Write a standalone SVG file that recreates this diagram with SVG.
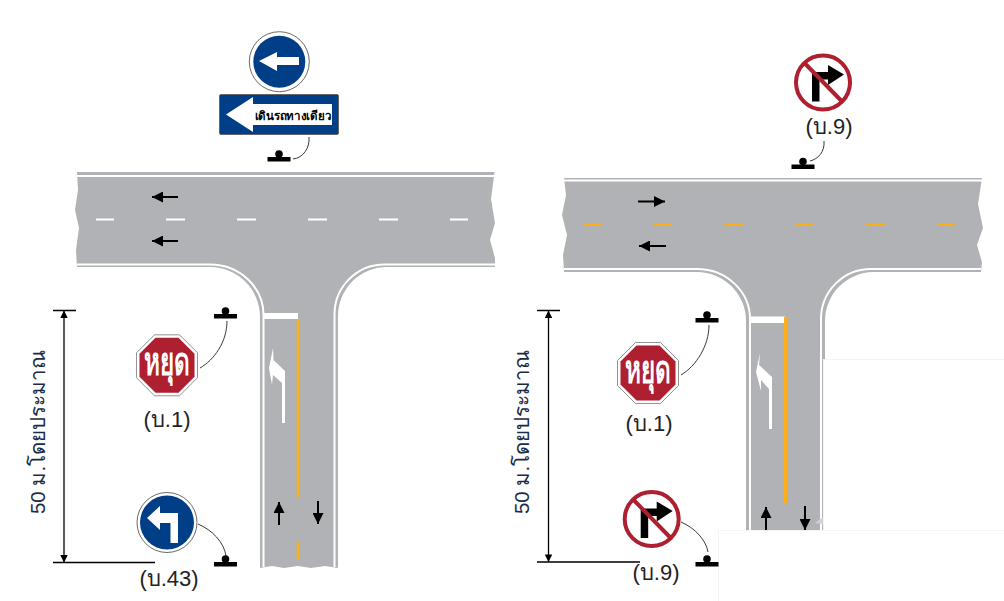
<svg xmlns="http://www.w3.org/2000/svg" width="1004" height="601" viewBox="0 0 1004 601">
<style>
.road{fill:#b1b2b5}
.edge{fill:none;stroke:#fff;stroke-width:2}
.wd{stroke:#fff;stroke-width:2;fill:none}
.yd{stroke:#fcaf17;stroke-width:2;fill:none}
.yl{stroke:#fcaf17;fill:none}
.ar{stroke:#000;stroke-width:2;fill:none}
.dim{stroke:#000;stroke-width:1.300;fill:none}
.lead{stroke:#222;stroke-width:.9;fill:none}
.lbl{font-family:"Liberation Sans","Noto Sans",sans-serif;font-size:22px;fill:#222;text-anchor:middle}
.dimt{font-family:"Liberation Sans","Noto Sans",sans-serif;font-size:20.500px;fill:#1a2b45;text-anchor:middle}
.stop{font-family:"Liberation Sans","Noto Sans",sans-serif;font-size:39px;font-weight:bold;fill:#fff;text-anchor:middle}
.bar{fill:#000}
.blue{fill:#003f87}
.ring{fill:#fff;stroke:#444;stroke-width:.8}
.red{fill:#ae1f2f}
</style>
<defs>
<marker id="ah" viewBox="0 0 10 10" refX="10" refY="5" markerWidth="5.500" markerHeight="5.500" orient="auto-start-reverse" markerUnits="strokeWidth"><path d="M0 0L10 5L0 10z" fill="#000"/></marker>
<marker id="dh" viewBox="0 0 10 10" refX="10" refY="5" markerWidth="15" markerHeight="7.500" orient="auto-start-reverse" markerUnits="userSpaceOnUse"><path d="M0 0L10 5L0 10z" fill="#000"/></marker>
<g id="post"><rect class="bar" x="-11.500" y="3" width="23" height="4.500"/><circle class="bar" cx="0" cy="0" r="3.800"/></g>
<g id="nr">
<circle r="29" fill="#fff"/><circle r="27" fill="#fff" stroke="#ae1f2f" stroke-width="4"/>
<path d="M-11 19V-10.500H5V-17.500L21 -8 5 2.500V-3H-3.500V19z" fill="#000"/>
<path d="M-19 -20L20 20" stroke="#ae1f2f" stroke-width="4"/>
</g>
<g id="oct"><path d="M-12.500 -30.500H12.500L30.500 -12.500V12.500L12.500 30.500H-12.500L-30.500 12.500V-12.500z" fill="#fff" stroke="#777" stroke-width=".8"/><path d="M-11.500 -27.500H11.500L27.500 -11.500V11.500L11.500 27.500H-11.500L-27.500 11.500V-11.500z" class="red"/><text class="stop" x="0" y="10" textLength="46" lengthAdjust="spacingAndGlyphs">หยุด</text></g>
</defs>
<g id="road-left">
<path class="road" d="M77 172H494.500L491 199 495 223 490 240 495 258 495 267H388A49 49 0 0 0 338 316V568L325 566 311 568 298 566 284 568 272 566 260 568V316A50 50 0 0 0 210 267H77L76 250 79 228 75 210 78 190z"/>
<path class="edge" d="M77 176H494.500M77 264.500H210A53.500 50.500 0 0 1 263.500 315V567M334.500 567V315A50 50 0 0 1 385 264.500H495"/>
<path class="wd" d="M96 219.500H114M166 219.500H185M237 219.500H256M308 219.500H327M379 219.500H398M450 219.500H468"/>
<rect x="263" y="313" width="35" height="6" fill="#fff"/>
<path class="yl" stroke-width="2.500" d="M298 319V497M298 541V559"/>
<path d="M273 348L273.500 360 285 371V423H282V383L273 375 272 385 269 368z" fill="#fff"/>
<path class="ar" marker-end="url(#ah)" d="M178 197H152"/>
<path class="ar" marker-end="url(#ah)" d="M178 241H152"/>
<path class="ar" marker-end="url(#ah)" d="M279 525V502"/>
<path class="ar" marker-end="url(#ah)" d="M318 501V524"/>
</g>
<g id="road-right">
<path class="road" d="M564 178H982L978 204 983 228 977 245 982 262 981 272H873A49 49 0 0 0 825 320V531H746V320A49 49 0 0 0 697 272H564L563 255 567 235 562 215 566 195z"/>
<path class="edge" d="M564 180.500H982M564 269H697A53 50 0 0 1 750 319V531M821 531V319A50 50 0 0 1 871 269H981"/>
<path class="yd" d="M583 224.500H601M654 224.500H672M724 224.500H743M795 224.500H814M866 224.500H885M937 224.500H955"/>
<rect x="751" y="316.500" width="34" height="6.500" fill="#fff"/>
<path class="yl" stroke-width="3" d="M785.500 317V503"/>
<path d="M760 353L759 365 772 377V429H769V389L761 380 761 391 756 372z" fill="#fff"/>
<path class="ar" marker-end="url(#ah)" d="M638 201.500H665"/>
<path class="ar" marker-end="url(#ah)" d="M666 246H639"/>
<path class="ar" marker-end="url(#ah)" d="M766 530V507"/>
<path class="ar" marker-end="url(#ah)" d="M805 506V530"/>
<rect x="823.500" y="359.500" width="181" height="172" fill="#fff" stroke="#f4f4f4"/>
<rect x="718.500" y="530.500" width="286" height="71" fill="#fff" stroke="#f4f4f4"/>
<path d="M815 523L823 517V524z" fill="#d0d1d3"/>
</g>
<g id="connectors">
<path class="lead" d="M293 159C303 158 310 148 309 137"/>
<path class="lead" d="M810 161C818 159 825 152 824 141"/>
<path class="lead" d="M227 321C227 342 214 360 200 368"/>
<path class="lead" d="M198 524C212 530 224 542 226 556"/>
<path class="lead" d="M709 325C709 346 696 366 681 375"/>
<path class="lead" d="M681 522C695 528 706 540 708 552"/>
<path class="dim" marker-start="url(#dh)" marker-end="url(#dh)" d="M64 310.500V562.500"/>
<path class="dim" d="M53 310.500H76M53 562.500H155"/>
<path class="dim" marker-start="url(#dh)" marker-end="url(#dh)" d="M548.500 310.500V562"/>
<path class="dim" d="M537 310.500H560M537 562H640"/>
</g>
<g id="sign-oneway">
<circle class="ring" cx="279.300" cy="61.700" r="30"/>
<circle class="blue" cx="279.300" cy="61.700" r="26"/>
<path d="M259 61L277 52V57H299V65H277V71z" fill="#fff"/>
<rect x="219.500" y="94.500" width="119" height="40" rx="1.500" fill="#003f87" stroke="#666" stroke-width="1"/>
<path d="M226 114.500L253 97V104H332V125H253V132z" fill="#fff"/>
<text x="293" y="120" font-family="Liberation Sans,Noto Sans,sans-serif" font-size="12" font-weight="bold" fill="#000" text-anchor="middle" textLength="77" lengthAdjust="spacingAndGlyphs">เดินรถทางเดียว</text>
</g>
<g id="post-top-left"><use href="#post" x="279" y="154"/></g>
<g id="sign-nr-top"><use href="#nr" x="823" y="82.500"/><text class="lbl" x="829" y="134">(บ.9)</text></g>
<g id="post-top-right"><use href="#post" x="803" y="161.500"/></g>
<g id="sign-stop-left"><use href="#oct" x="167" y="365.300"/><text class="lbl" x="167" y="427">(บ.1)</text></g>
<g id="post-stop-left"><use href="#post" x="225.500" y="311"/></g>
<g id="sign-left-turn">
<circle class="ring" cx="167" cy="522.500" r="30"/>
<circle class="blue" cx="167" cy="522.500" r="27"/>
<path d="M147 518L160 506V513H178V543H170.500V523H160V530z" fill="#fff"/>
<text class="lbl" x="169" y="586">(บ.43)</text>
</g>
<g id="post-left-turn"><use href="#post" x="225.500" y="559"/></g>
<g id="dim-text-left"><text class="dimt" transform="translate(45 432) rotate(-90)">50 ม.โดยประมาณ</text></g>
<g id="sign-stop-right"><use href="#oct" x="648" y="373"/><text class="lbl" x="649" y="431">(บ.1)</text></g>
<g id="post-stop-right"><use href="#post" x="707" y="315"/></g>
<g id="sign-nr-bottom"><use href="#nr" x="651.700" y="519"/><text class="lbl" x="656" y="580">(บ.9)</text></g>
<g id="post-nr-bottom"><use href="#post" x="707" y="559"/></g>
<g id="dim-text-right"><text class="dimt" transform="translate(529 432) rotate(-90)">50 ม.โดยประมาณ</text></g>
</svg>
